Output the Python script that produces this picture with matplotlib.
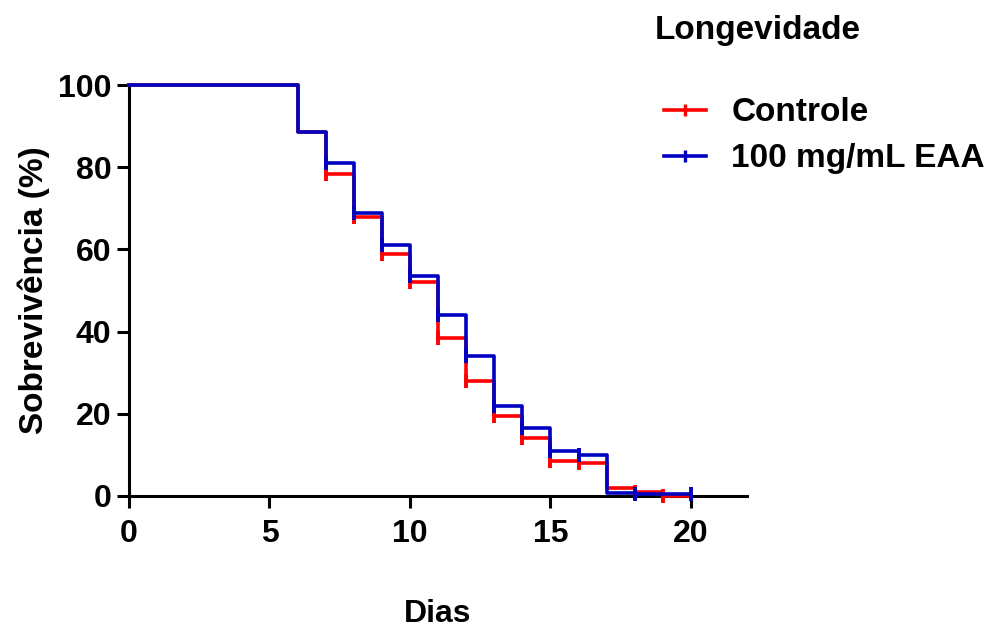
import matplotlib.pyplot as plt

plt.rcParams['font.family'] = ['Liberation Sans', 'DejaVu Sans']
plt.rcParams['font.weight'] = 'bold'

# Kaplan-Meier curves (step values after each day)
days = [0, 6, 7, 8, 9, 10, 11, 12, 13, 14, 15, 16, 17, 18, 19, 20]
controle = [100, 88.5, 78.5, 68, 59, 52, 38.5, 28, 19.5, 14, 8.5, 8, 2, 1, 0, 0]
eaa = [100, 88.5, 81, 69, 61, 53.5, 44, 34, 22, 16.5, 11, 10, 0.7, 0.5, 0.5, 0.5]

# censored marks
cens_ctrl_x = [7, 8, 9, 10, 11, 12, 13, 14, 15, 16, 18, 19]
cens_ctrl_y = [78.5, 68, 59, 52, 38.5, 28, 19.5, 14, 8.5, 8, 1, 0]
cens_eaa_x = [7, 8, 9, 10, 11, 12, 13, 14, 15, 16, 18, 20]
cens_eaa_y = [81, 69, 61, 53.5, 44, 34, 22, 16.5, 11, 10, 0.5, 0.5]

red = '#ff0000'
blue = '#0000c0'

fig = plt.figure(figsize=(9.89, 6.31), dpi=100)
ax = fig.add_axes([0.1304, 0.214, 0.625, 0.651])

ax.step(days, controle, where='post', color=red, lw=2.6, clip_on=False, zorder=3)
ax.plot(cens_ctrl_x, cens_ctrl_y, ls='none', marker='|', ms=10, mew=2.8,
        color=red, clip_on=False, zorder=3)
ax.step(days, eaa, where='post', color=blue, lw=2.6, clip_on=False, zorder=4)
ax.plot(cens_eaa_x, cens_eaa_y, ls='none', marker='|', ms=10, mew=2.8,
        color=blue, clip_on=False, zorder=4)

# legend handles
h1, = ax.plot([], [], color=red, lw=2.6, marker='|', ms=8, mew=2.4)
h2, = ax.plot([], [], color=blue, lw=2.6, marker='|', ms=8, mew=2.4)
fig.legend([h1, h2], ['Controle', '100 mg/mL EAA'], loc='upper left',
           bbox_to_anchor=(0.655, 0.872), frameon=False, borderpad=0,
           handlelength=1.25, handletextpad=0.75, labelspacing=0.45,
           prop={'weight': 'bold', 'size': 24})
fig.text(0.662, 0.952, 'Longevidade', fontsize=24, fontweight='bold', va='center')

ax.set_xlim(0, 22)
ax.set_ylim(0, 100)
ax.set_xticks([0, 5, 10, 15, 20])
ax.set_yticks([0, 20, 40, 60, 80, 100])
ax.tick_params(direction='out', length=8.5, width=2.2, labelsize=23)
ax.tick_params(axis='x', pad=8)
ax.tick_params(axis='y', pad=4)
for lab in ax.get_xticklabels() + ax.get_yticklabels():
    lab.set_fontweight('bold')
for s in ['top', 'right']:
    ax.spines[s].set_visible(False)
for s in ['left', 'bottom']:
    ax.spines[s].set_linewidth(2.2)

ax.set_xlabel('Dias', fontsize=23, fontweight='bold', labelpad=36)
ax.set_ylabel('Sobrevivência (%)', fontsize=24, fontweight='bold', labelpad=6)

plt.savefig('out.png', dpi=100)
